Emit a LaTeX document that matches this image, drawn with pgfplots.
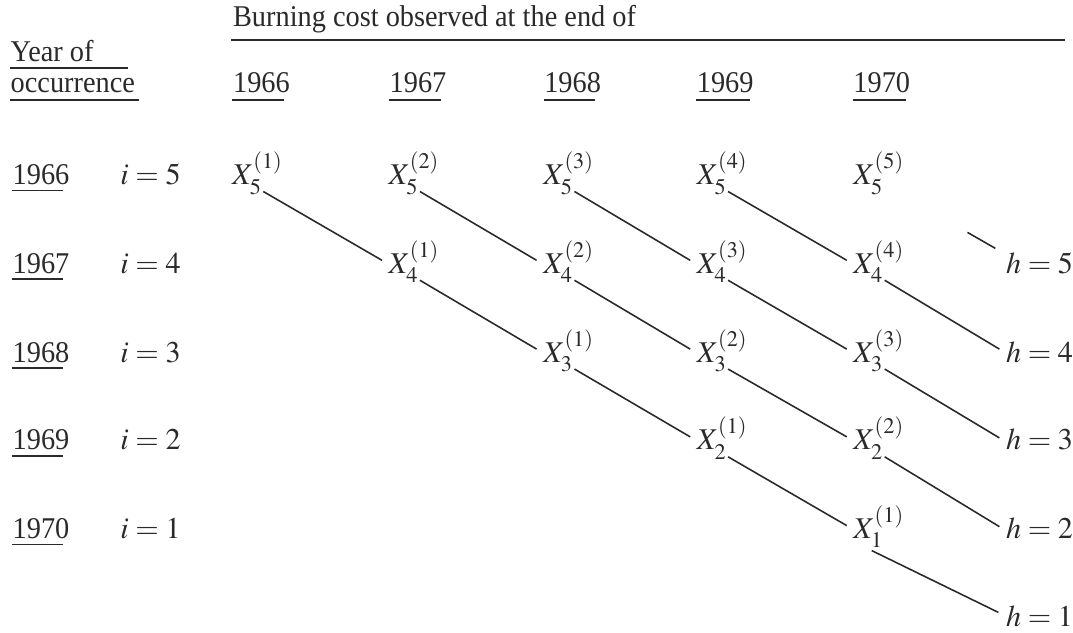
\documentclass[border=0pt]{standalone}
\usepackage{mathptmx}
\usepackage{fontspec}
\setmainfont{Liberation Serif}[FakeStretch=0.94]
\usepackage{pgfplots}
\pgfplotsset{compat=1.18}
\definecolor{ink}{HTML}{2A2A2A}
\begin{document}
\begin{tikzpicture}[every node/.style={font=\fontsize{8.6}{10}\selectfont, text=ink, inner sep=0pt, anchor=base west}]
\begin{axis}[
  scale only axis, width=107.3mm, height=63.4mm,
  xmin=0, xmax=1073, ymin=0, ymax=634, y dir=reverse,
  hide axis, clip=false, unbounded coords=jump]
% frame that keeps the picture as large as the axis
\addplot[draw=none, forget plot] coordinates {(0,0) (1073,634)};
% underlines
\addplot[ink, line width=0.45pt] coordinates {
 (232,40) (1068,40) (nan,nan)
 (10,68) (128,68) (nan,nan)
 (10,100) (139,100) (nan,nan)
 (233,100) (285,100) (nan,nan)
 (390,100) (442,100) (nan,nan)
 (545,100) (597,100) (nan,nan)
 (698,100) (752,100) (nan,nan)
 (855,100) (908,100) (nan,nan)
 (12,191) (63,191) (nan,nan)
 (12,280) (63,280) (nan,nan)
 (12,369) (63,369) (nan,nan)
 (12,457) (63,457) (nan,nan)
 (12,546) (63,546)
};
% diagonal links
\addplot[ink, line width=0.45pt] coordinates {
 (264,192) (383,261) (nan,nan)
 (421,192) (538,261) (nan,nan)
 (576,192) (692,261) (nan,nan)
 (730,192) (849,261) (nan,nan)
 (970,233) (998,249) (nan,nan)
 (421,281) (538,350) (nan,nan)
 (576,281) (692,350) (nan,nan)
 (730,281) (849,350) (nan,nan)
 (887,281) (1002,350) (nan,nan)
 (576,370) (692,438) (nan,nan)
 (730,370) (849,438) (nan,nan)
 (887,370) (1002,439) (nan,nan)
 (730,458) (849,527) (nan,nan)
 (887,458) (1002,528) (nan,nan)
 (874,552) (1001,614)
};
% header texts
\node at (axis cs:233,27) {Burning cost observed at the end of};
\node at (axis cs:10,62) {Year of};
\node at (axis cs:10,93) {occurrence};
\node at (axis cs:233,93) {1966};
\node at (axis cs:390,93) {1967};
\node at (axis cs:545,93) {1968};
\node at (axis cs:698,93) {1969};
\node at (axis cs:855,93) {1970};
% row labels
\node at (axis cs:12,185) {1966};
\node at (axis cs:12,274) {1967};
\node at (axis cs:12,363) {1968};
\node at (axis cs:12,451) {1969};
\node at (axis cs:12,540) {1970};
\node at (axis cs:120,185) {$i = 5$};
\node at (axis cs:120,274) {$i = 4$};
\node at (axis cs:120,363) {$i = 3$};
\node at (axis cs:120,451) {$i = 2$};
\node at (axis cs:120,540) {$i = 1$};
% X entries
\node at (axis cs:232,185) {$X_5^{(1)}$};
\node at (axis cs:389,185) {$X_5^{(2)}$};
\node at (axis cs:544,185) {$X_5^{(3)}$};
\node at (axis cs:698,185) {$X_5^{(4)}$};
\node at (axis cs:855,185) {$X_5^{(5)}$};
\node at (axis cs:389,274) {$X_4^{(1)}$};
\node at (axis cs:544,274) {$X_4^{(2)}$};
\node at (axis cs:698,274) {$X_4^{(3)}$};
\node at (axis cs:855,274) {$X_4^{(4)}$};
\node at (axis cs:544,363) {$X_3^{(1)}$};
\node at (axis cs:698,363) {$X_3^{(2)}$};
\node at (axis cs:855,363) {$X_3^{(3)}$};
\node at (axis cs:698,451) {$X_2^{(1)}$};
\node at (axis cs:855,451) {$X_2^{(2)}$};
\node at (axis cs:855,540) {$X_1^{(1)}$};
% h labels
\node at (axis cs:1008,274) {$h = 5$};
\node at (axis cs:1008,363) {$h = 4$};
\node at (axis cs:1008,451) {$h = 3$};
\node at (axis cs:1008,540) {$h = 2$};
\node at (axis cs:1008,628) {$h = 1$};
\end{axis}
\end{tikzpicture}
\end{document}
